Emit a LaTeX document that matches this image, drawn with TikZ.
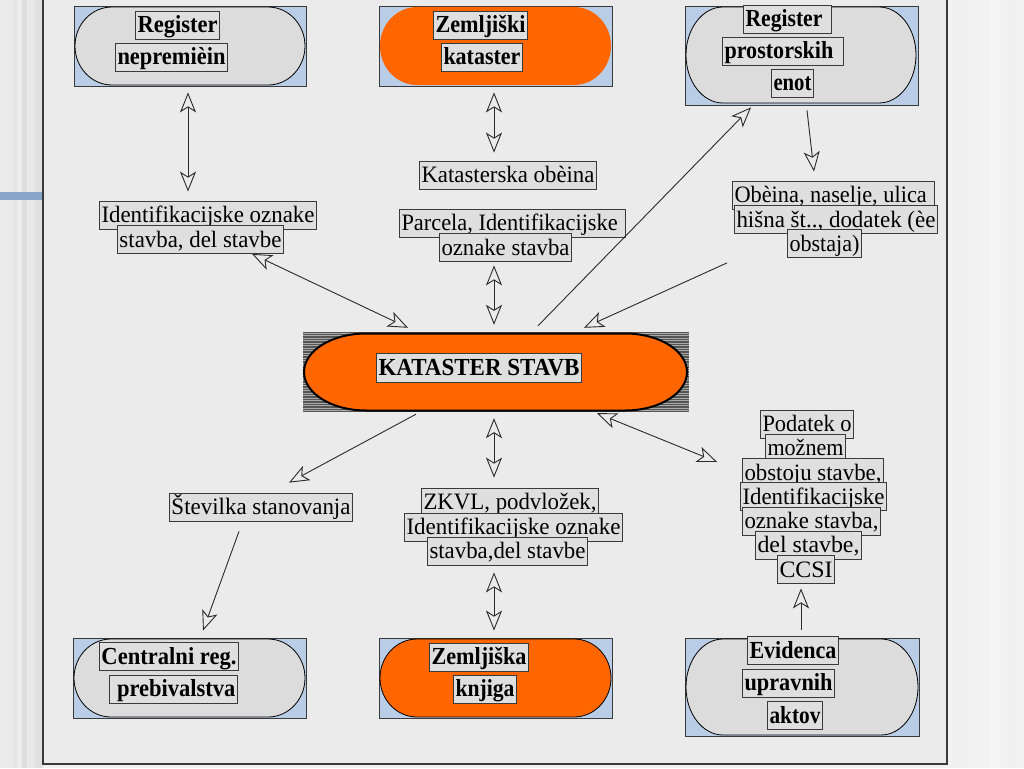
\documentclass[tikz,border=0pt]{standalone}
\usepackage{fontspec}
\setmainfont{Liberation Serif}
\usepackage{graphicx}
\usetikzlibrary{arrows.meta}
\definecolor{pagebg}{HTML}{F2F2F2}
\definecolor{panelbg}{HTML}{EBEBEB}
\definecolor{boxgray}{HTML}{DFDFDF}
\definecolor{pillgray}{HTML}{DCDCDC}
\definecolor{bordergray}{HTML}{3A3A3A}
\definecolor{blueish}{HTML}{B9CDE6}
\definecolor{orange1}{HTML}{FF6600}
\definecolor{linecol}{HTML}{2A2A2A}
\definecolor{stripebg}{HTML}{555555}
\definecolor{stripeln}{HTML}{A8A8A8}
\definecolor{barblue}{HTML}{87A5C7}
\newcommand{\pillpath}[5]{(#1+#5,#2) -- (#3-#5,#2) arc[start angle=-90,end angle=90,x radius=#5,y radius={(#4-#2)/2}] -- (#1+#5,#4) arc[start angle=90,end angle=270,x radius=#5,y radius={(#4-#2)/2}] -- cycle}
\newcommand{\fitw}[2]{\resizebox{#1pt}{\height}{#2}}
\tikzset{
  lbl/.style={draw=bordergray, fill=boxgray, line width=0.8pt, inner xsep=2pt, inner ysep=0.5pt,
    text height=21pt, text depth=6pt, font=\fontsize{23.5}{25}\selectfont},
  ttl/.style={lbl, font=\fontsize{24.5}{26}\selectfont\bfseries},
  rectbox/.style={draw=bordergray, fill=blueish, line width=0.8pt, inner sep=0pt},
  pillg/.style={draw=black, fill=pillgray, line width=0.8pt},
  pillo/.style={fill=orange1},
  pillob/.style={draw=black, fill=orange1, line width=0.8pt},
  tipst/.tip={Stealth[open, length=20pt, width=16pt, inset=5pt]},
  arr/.style={draw=linecol, line width=0.9pt, -tipst},
  dbl/.style={draw=linecol, line width=0.9pt, tipst-tipst},
}
\begin{document}
\begin{tikzpicture}[x=1pt,y=-1pt]
\useasboundingbox (0,0) rectangle (1024,768);
% page background and margins
\fill[pagebg] (0,0) rectangle (1024,768);
\fill[black!10] (0,0) rectangle (43,768);
\fill[black!8] (0,0) rectangle (13,768);
\fill[black!7] (17,0) rectangle (22,768);
\fill[black!13] (22,0) rectangle (27,768);
\fill[black!9] (27,0) rectangle (35,768);
\fill[black!12] (35,0) rectangle (43,768);
\fill[barblue] (0,192) rectangle (43,200);
\fill[black!6] (953,0) rectangle (967,768);
\fill[black!4] (990,0) rectangle (1000,768);
\fill[black!6] (1008,0) rectangle (1016,768);
% panel
\fill[panelbg] (43,-5) rectangle (947,764);
\draw[bordergray, line width=1.2pt] (43,-5) -- (43,764) -- (947,764) -- (947,-5);

% ---------- top row ----------
\node[rectbox, minimum width=232pt, minimum height=80pt] (rn) at (190,46) {};
\draw[pillg] \pillpath{75}{7}{305}{85}{37};
\node[ttl] (t1a) at (177.5,25) {\fitw{80}{Register}};
\node[ttl] (t1b) at (171.5,57) {\fitw{108}{nepremièin}};

\node[rectbox, minimum width=233pt, minimum height=80pt] (zk) at (495.5,46) {};
\fill[pillo] \pillpath{380}{7}{611}{85}{37};
\node[ttl] (t2a) at (480.5,25) {\fitw{90}{Zemljiški}};
\node[ttl] (t2b) at (482,57) {\fitw{77}{kataster}};

\node[rectbox, minimum width=233pt, minimum height=99pt] (rp) at (801.5,55.5) {};
\draw[pillg] \pillpath{686}{7}{916}{103}{37};
\node[ttl] (t3a) at (787.5,19) {\fitw{84}{Register\hspace{8pt}}};
\node[ttl] (t3b) at (783,51.5) {\fitw{117}{prostorskih\hspace{9pt}}};
\node[ttl] (t3c) at (792.5,83.5) {\fitw{38}{enot}};

% ---------- upper labels ----------
\node[lbl] (la1) at (208,215) {\fitw{213}{Identifikacijske oznake}};
\node[lbl] (la2) at (200.5,239.5) {\fitw{162}{stavba, del stavbe}};
\node[lbl] (lb) at (508,175) {\fitw{173}{Katasterska obèina}};
\node[lbl] (lc1) at (512.5,223) {\fitw{222}{Parcela, Identifikacijske\hspace{6pt}}};
\node[lbl] (lc2) at (505.5,247.5) {\fitw{128}{oznake stavba}};
\node[lbl] (ld1) at (833.5,195) {\fitw{198}{Obèina, naselje, ulica\hspace{6pt}}};
\node[lbl] (ld2) at (836,219.5) {\fitw{199}{hišna št.., dodatek (èe}};
\node[lbl] (ld3) at (824.5,243.5) {\fitw{70}{obstaja)}};

% ---------- centre ----------
\node[fill=stripebg, minimum width=386pt, minimum height=80pt, inner sep=0pt] (ks) at (496,372) {};
\foreach \yy in {333,335.5,...,411} \draw[stripeln, line width=0.7pt] (303,\yy) -- (689,\yy);
\draw[draw=black, fill=orange1, line width=2pt] \pillpath{304}{333.5}{687}{410.5}{62};
\node[ttl, inner ysep=1pt] (kst) at (479,367.5) {\fitw{201}{KATASTER STAVB}};

% ---------- lower labels ----------
\node[lbl] (le) at (261,507) {\fitw{179}{Številka stanovanja}};
\node[lbl] (lf1) at (510,502) {\fitw{173}{ZKVL, podvložek,}};
\node[lbl] (lf2) at (513.5,527) {\fitw{214}{Identifikacijske oznake}};
\node[lbl] (lf3) at (507.5,551) {\fitw{156}{stavba,del stavbe}};
\node[lbl] (lg1) at (807,424) {\fitw{89}{Podatek o}};
\node[lbl] (lg2) at (805.5,448) {\fitw{76}{možnem}};
\node[lbl] (lg3) at (813,472.5) {\fitw{137}{obstoju stavbe,}};
\node[lbl] (lg4) at (813.5,496.5) {\fitw{142}{Identifikacijske}};
\node[lbl] (lg5) at (811.5,521) {\fitw{134}{oznake stavba,}};
\node[lbl] (lg6) at (808.5,545) {\fitw{102}{del stavbe,}};
\node[lbl] (lg7) at (806,569.5) {\fitw{53}{CCSI}};

% ---------- bottom row ----------
\node[rectbox, minimum width=233pt, minimum height=80pt] (cr) at (189.5,678) {};
\draw[pillg] \pillpath{74}{639}{305}{717}{37};
\node[ttl] (b1a) at (169,656.5) {\fitw{135}{Centralni reg.}};
\node[ttl] (b1b) at (173.5,689) {\fitw{124}{\hspace{6pt}prebivalstva}};

\node[rectbox, minimum width=233pt, minimum height=80pt] (zkn) at (495.5,678) {};
\draw[pillob] \pillpath{380}{639}{611}{717}{37};
\node[ttl] (b2a) at (479,657) {\fitw{95}{Zemljiška}};
\node[ttl] (b2b) at (485,689) {\fitw{59}{knjiga}};

\node[rectbox, minimum width=234pt, minimum height=98pt] (eua) at (802,687) {};
\draw[pillg] \pillpath{686}{639}{918}{735}{37};
\node[ttl] (b3a) at (793,650.5) {\fitw{87}{Evidenca}};
\node[ttl] (b3b) at (788.5,683) {\fitw{88}{upravnih}};
\node[ttl] (b3c) at (795,715.5) {\fitw{51}{aktov}};

% ---------- connectors ----------
\draw[dbl] ([xshift=-2pt,yshift=-6pt]rn.south) -- ([xshift=-20pt,yshift=9pt]la1.north);
\draw[dbl] ([xshift=-1.5pt,yshift=-6pt]zk.south) -- ([xshift=-14pt,yshift=8pt]lb.north);
\draw[dbl] ([xshift=-11.5pt,yshift=-3.5pt]lc2.south) -- ([xshift=-2pt,yshift=7pt]ks.north);
\draw[dbl] ([xshift=51.5pt]la2.south) -- ([xshift=-88pt,yshift=4pt]ks.north);
\draw[arr] ([xshift=42pt,yshift=6pt]ks.north) -- ([xshift=-50.5pt,yshift=-2pt]rp.south);
\draw[arr] ([xshift=5.5pt,yshift=-5pt]rp.south) -- ([xshift=-19.5pt,yshift=9pt]ld1.north);
\draw[arr] ([xshift=-97.5pt,yshift=-5pt]ld3.south) -- ([xshift=88pt,yshift=4pt]ks.north);
\draw[arr] ([xshift=-80pt,yshift=-2pt]ks.south) -- ([xshift=28pt,yshift=10pt]le.north);
\draw[dbl] ([xshift=-2pt,yshift=-6pt]ks.south) -- ([xshift=-16pt,yshift=10pt]lf1.north);
\draw[dbl] ([xshift=101pt,yshift=-1pt]ks.south) -- ([xshift=-25pt,yshift=10.5pt]lg3.west);
\draw[arr] ([xshift=-22pt,yshift=-10pt]le.south) -- ([xshift=13.5pt,yshift=7pt]cr.north);
\draw[dbl] ([xshift=-13.5pt,yshift=-7pt]lf3.south) -- ([xshift=-1.5pt,yshift=7pt]zkn.north);
\draw[arr] ([xshift=-1pt,yshift=8pt]eua.north) -- ([xshift=-5pt,yshift=-4.5pt]lg7.south);
\end{tikzpicture}
\end{document}
